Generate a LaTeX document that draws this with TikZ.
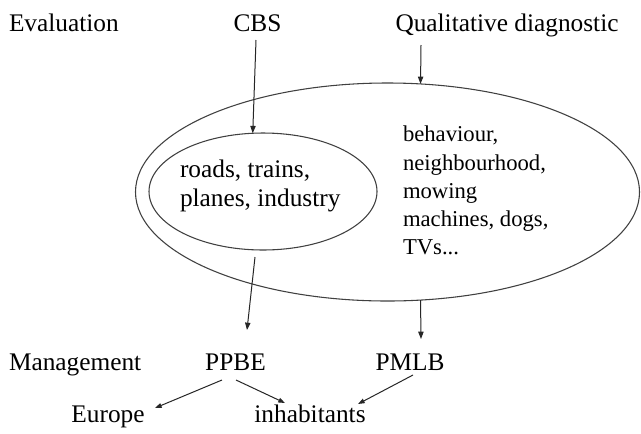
\documentclass[tikz,border=0pt]{standalone}
\usepackage{fontspec}
\setmainfont{Liberation Serif}
\usetikzlibrary{arrows.meta,calc,shapes.geometric}
\begin{document}
\begin{tikzpicture}[x=0.75pt,y=-0.75pt,
  lbl/.style={inner sep=0pt, outer sep=0pt, font=\fontsize{19}{21.75}\selectfont},
  rlbl/.style={inner sep=0pt, outer sep=0pt, font=\fontsize{17}{21.2}\selectfont},
  oval/.style={draw=black!75, line width=0.8pt, ellipse, inner sep=0pt, outer sep=0pt},
  arr/.style={draw=black!85, line width=0.75pt, -{Triangle[length=5.5pt,width=4pt]}},
  link/.style={draw=black!85, line width=0.75pt, -{Triangle[length=5pt,width=3.5pt]}}]
\useasboundingbox (0,0) rectangle (641,433);
\fill[white] (0,0) rectangle (641,433);
% ellipses
\node[oval, minimum width=378pt, minimum height=163.5pt] (outer) at (387.5,192) {};
\node[oval, minimum width=171pt, minimum height=87.75pt] (inner) at (263,191.5) {};
% labels
\node[lbl, anchor=base west] (eval) at (9,31) {Evaluation};
\node[lbl, anchor=base] (cbs) at (257.5,31) {CBS};
\node[lbl, anchor=base] (qd) at (507,31) {Qualitative diagnostic};
\node[lbl, anchor=base west] (mgmt) at (9,370) {Management};
\node[lbl, anchor=base] (ppbe) at (235.5,370) {PPBE};
\node[lbl, anchor=base] (pmlb) at (410,370) {PMLB};
\node[lbl, anchor=base] (europe) at (108,422) {Europe};
\node[lbl, anchor=base] (inhab) at (310,422) {inhabitants};
\node[lbl, anchor=west, align=left] (noise) at (180,185.7) {roads, trains,\\planes, industry};
\node[rlbl, anchor=west, align=left] (other) at (403,190.7) {behaviour,\\neighbourhood,\\mowing\\machines, dogs,\\TVs...};
% connectors
\draw[arr] ($(cbs.base)+(-1.5,9)$) -- (inner.100);
\coordinate (qdfoot) at ($(qd.base)+(-86,14)$);
\draw[arr] (qdfoot) -- (outer.73);
\draw[arr] ($(inner.south)+(-8,7)$) -- ($(ppbe.base)+(11.5,-40)$);
\draw[arr] (outer.-73) -- ($(pmlb.base)+(11,-31)$);
\draw[link] ($(ppbe.base)+(-13.5,10)$) -- ($(europe.base)+(47,-14)$);
\draw[link] ($(ppbe.base)+(0.5,10)$) -- ($(inhab.base)+(-25,-19)$);
\draw[link] ($(pmlb.base)+(3,5)$) -- ($(inhab.base)+(48,-18)$);
\end{tikzpicture}
\end{document}
